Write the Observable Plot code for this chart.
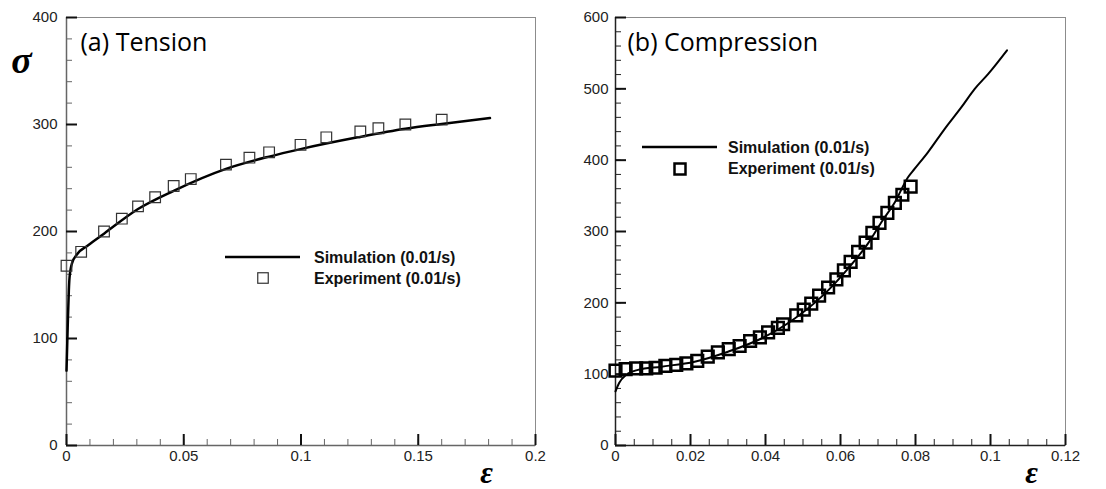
<!DOCTYPE html>
<html>
<head>
<meta charset="utf-8">
<script src="https://cdn.jsdelivr.net/npm/d3@7"></script>
<script src="https://cdn.jsdelivr.net/npm/@observablehq/plot@0.6"></script>
<style>
  html, body { margin: 0; padding: 0; background: #fff; }
  #wrap { position: relative; width: 1106px; height: 489px; background: #fff; overflow: hidden; }
  #a, #b, #leg { position: absolute; top: 0; }
  #a { left: 0; }
  #b { left: 553px; }
  #leg { left: 0; pointer-events: none; }
</style>
</head>
<body>
<div id="wrap"><div id="a"></div><div id="b"></div><svg id="leg" width="1106" height="489"></svg></div>
<script>
// ---------- DATA ----------
const tensionSimStrain = [0, 0.0005, 0.001, 0.0013, 0.0023, 0.0046, 0.0091, 0.016, 0.0305, 0.0457, 0.068, 0.0864, 0.0998, 0.1242, 0.1445, 0.16, 0.1806];
const tensionSimStress = [70, 110, 145, 157, 170, 179, 187, 198, 221, 238, 258.5, 270, 277, 288, 296, 300.5, 306];
const tensionExpStrain = [0.0, 0.00625, 0.016, 0.0236, 0.0305, 0.0378, 0.0457, 0.053, 0.068, 0.078, 0.0864, 0.0998, 0.1108, 0.1253, 0.133, 0.1445, 0.160];
const tensionExpStress = [168, 181, 200, 212, 223.5, 232, 242.5, 249, 262.5, 269, 274, 281, 288, 293.5, 296.5, 300, 304.5];

const compSimStrain = [0, 0.001, 0.0028, 0.006, 0.0122, 0.0211, 0.03, 0.0389, 0.0478, 0.0567, 0.062, 0.0673, 0.0709, 0.0745, 0.078, 0.0798, 0.0833, 0.0878, 0.0922, 0.0958, 0.0994, 0.1044];
const compSimStress = [76, 88, 99, 106, 110.5, 117.5, 131.5, 150, 178, 217.5, 248, 283, 313, 341, 376, 388, 411, 444, 474, 500, 521, 554];
const compExpStrain = [0.0, 0.0027, 0.0055, 0.0082, 0.0107, 0.0133, 0.0162, 0.0189, 0.0218, 0.0246, 0.0273, 0.0302, 0.0331, 0.0359, 0.0385, 0.0407, 0.0433, 0.0447, 0.0482, 0.0502, 0.0522, 0.0543, 0.0567, 0.0589, 0.0609, 0.0627, 0.0647, 0.0667, 0.0685, 0.0704, 0.0725, 0.0745, 0.0765, 0.0787];
const compExpStress = [105, 107, 108, 108, 109, 111.5, 113, 115, 118.5, 124.5, 130.5, 135, 139.5, 146.5, 151.5, 158.5, 165, 170, 182.5, 190.5, 199, 210, 221.5, 233, 245.5, 257.5, 271.5, 284.5, 298, 312, 326, 340, 351.5, 363];

const xTicksA = [0, 0.05, 0.1, 0.15, 0.2];
const yTicksA = [0, 100, 200, 300, 400];
const xTicksB = [0, 0.02, 0.04, 0.06, 0.08, 0.1, 0.12];
const yTicksB = [0, 100, 200, 300, 400, 500, 600];
const xMinorStepA = 0.01, yMinorStepA = 20;
const xMinorStepB = 0.005, yMinorStepB = 20;

const titles = ["(a) Tension", "(b) Compression"];
const legendLabels = ["Simulation (0.01/s)", "Experiment (0.01/s)"];
const yLabel = "σ", xLabel = "ε";

// ---------- BUILD ----------
const zip = (xs, ys) => xs.map((x, i) => ({strain: x, stress: ys[i]}));
const W = 553, H = 489, MT = 17, MB = 44;
const minor = (max, step) => d3.range(0, Math.round(max / step) + 1).map(i => i * step);

function panel(o) {
  const pw = W - o.mL - o.mR, ph = H - MT - MB;
  const xMax = o.xTicks[o.xTicks.length - 1], yMax = o.yTicks[o.yTicks.length - 1];
  const marks = [
    Plot.frame({stroke: "#8c8c8c", strokeWidth: 1}),
    Plot.ruleX([0], {stroke: o.axisColor, strokeWidth: 1.5}),
    Plot.ruleY([0], {stroke: o.axisColor, strokeWidth: 1.5}),
    Plot.ruleX(minor(xMax, o.xStep), {insetTop: ph - 6, stroke: o.axisColor, strokeWidth: 1}),
    Plot.ruleX(o.xTicks, {insetTop: ph - 11, stroke: "#111", strokeWidth: 2}),
    Plot.ruleY(minor(yMax, o.yStep), {insetRight: pw - 6, stroke: o.axisColor, strokeWidth: 1}),
    Plot.ruleY(o.yTicks, {insetRight: pw - 11, stroke: "#111", strokeWidth: 2}),
    Plot.axisX({ticks: o.xTicks, tickSize: 0, tickPadding: 5, tickFormat: d => String(d), label: null, fill: "#222", fontSize: 15}),
    Plot.axisY({ticks: o.yTicks, tickSize: 0, tickPadding: o.yPad, tickFormat: d => String(d), label: null, fill: "#222", fontSize: 15}),
    Plot.line(o.sim, {x: "strain", y: "stress", stroke: "#000", strokeWidth: o.lineW, curve: "monotone-x"}),
    Plot.dot(o.exp, {x: "strain", y: "stress", symbol: "square", r: o.dotR, stroke: o.dotColor, strokeWidth: o.dotSW, fill: "none"}),
    Plot.text([o.title], {frameAnchor: "top-left", dx: o.titleDx, dy: 16, textAnchor: "start", lineAnchor: "top",
      fontFamily: "'Open Sans', sans-serif", fontSize: 25, fill: "#000"}),
    Plot.text([xLabel], {frameAnchor: "bottom-right", dx: o.epsDx, dy: 37, textAnchor: "middle", lineAnchor: "bottom",
      fontFamily: "'Liberation Serif', serif", fontWeight: "bold", fontStyle: "italic", fontSize: 31, fill: "#000"})
  ];
  if (o.sigma) marks.push(Plot.text([yLabel], {frameAnchor: "top-left", dx: -45, dy: 55, textAnchor: "middle", lineAnchor: "bottom",
      fontFamily: "'Liberation Serif', serif", fontWeight: "bold", fontStyle: "italic", fontSize: 38, fill: "#000"}));
  return Plot.plot({
    width: W, height: H, marginLeft: o.mL, marginRight: o.mR, marginTop: MT, marginBottom: MB,
    x: {domain: [0, xMax]}, y: {domain: [0, yMax]},
    style: {fontFamily: "'Liberation Sans', Arial, sans-serif", fontSize: "15px", background: "white", overflow: "visible"},
    marks
  });
}

document.getElementById("a").append(panel({
  mL: 66, mR: 18, xTicks: xTicksA, yTicks: yTicksA, xStep: xMinorStepA, yStep: yMinorStepA,
  sim: zip(tensionSimStrain, tensionSimStress), exp: zip(tensionExpStrain, tensionExpStress),
  title: titles[0], titleDx: 14, lineW: 2.5, dotR: 6, dotSW: 1.2, dotColor: "#333", axisColor: "#666",
  yPad: 9, epsDx: -49, sigma: true
}));
document.getElementById("b").append(panel({
  mL: 62, mR: 41, xTicks: xTicksB, yTicks: yTicksB, xStep: xMinorStepB, yStep: yMinorStepB,
  sim: zip(compSimStrain, compSimStress), exp: zip(compExpStrain, compExpStress),
  title: titles[1], titleDx: 12, lineW: 2, dotR: 6.6, dotSW: 2.5, dotColor: "#000", axisColor: "#222",
  yPad: 7, epsDx: -34, sigma: false
}));

// ---------- LEGENDS (overlay) ----------
const legends = [
  {lineX: [225, 300], lineY: 257, sq: [263, 278], side: 10.5, sqSW: 1.2, sqColor: "#333", textX: 314, rows: [257, 278]},
  {lineX: [642, 717], lineY: 147, sq: [680, 169], side: 11, sqSW: 2.5, sqColor: "#000", textX: 728, rows: [147, 168]}
];
const leg = d3.select("#leg");
legends.forEach(L => {
  leg.append("line").attr("x1", L.lineX[0]).attr("x2", L.lineX[1]).attr("y1", L.lineY).attr("y2", L.lineY)
    .attr("stroke", "#000").attr("stroke-width", 2.5);
  leg.append("rect").attr("x", L.sq[0] - L.side / 2).attr("y", L.sq[1] - L.side / 2)
    .attr("width", L.side).attr("height", L.side).attr("fill", "none")
    .attr("stroke", L.sqColor).attr("stroke-width", L.sqSW);
  legendLabels.forEach((t, i) => {
    leg.append("text").attr("x", L.textX).attr("y", L.rows[i]).attr("dy", "0.35em")
      .attr("font-family", "'Liberation Sans', Arial, sans-serif").attr("font-weight", "bold")
      .attr("font-size", 16).attr("fill", "#111").text(t);
  });
});
</script>
</body>
</html>
